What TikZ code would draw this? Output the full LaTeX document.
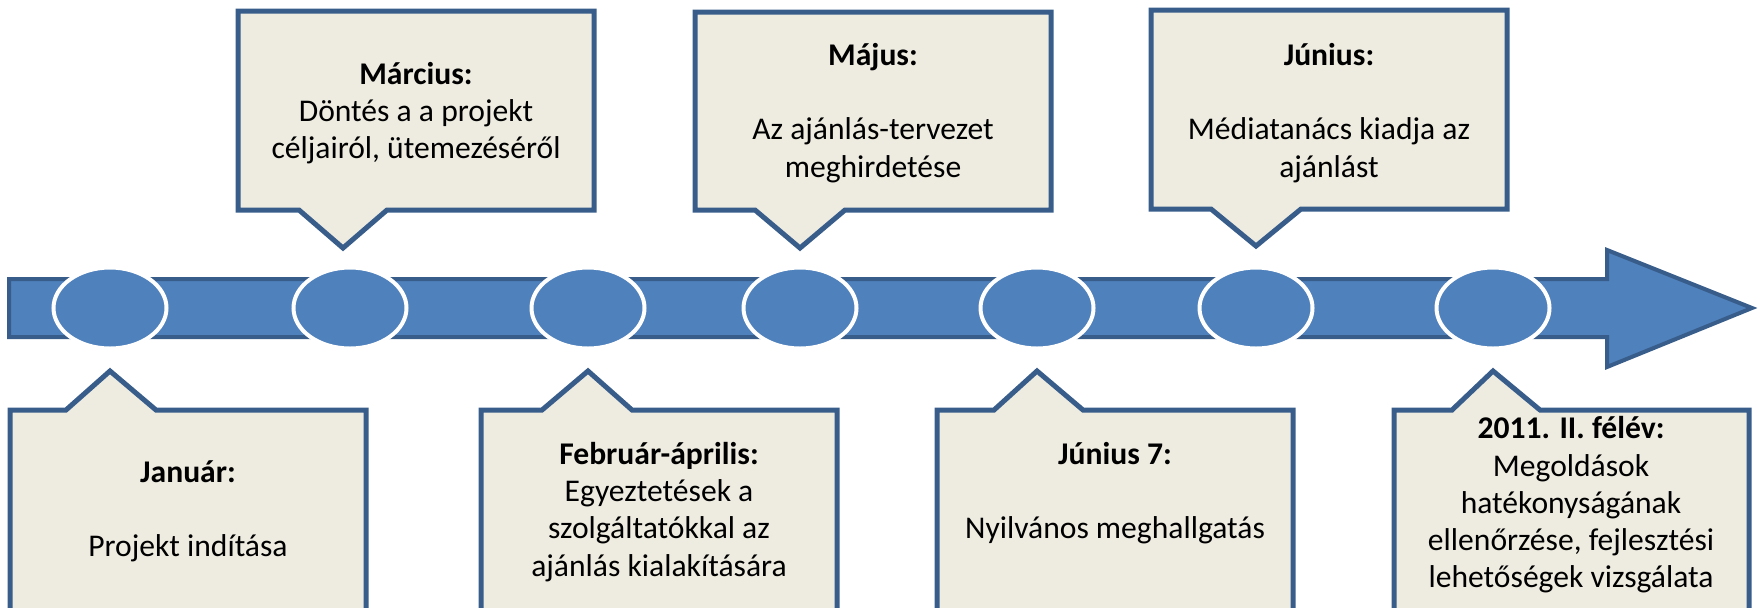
\documentclass[tikz,border=0pt]{standalone}
\usepackage{fontspec}
\setmainfont{Carlito}
\usetikzlibrary{calc,shapes.geometric}
\definecolor{barblue}{HTML}{4F81BD}
\definecolor{edgeblue}{HTML}{385D8A}
\definecolor{notefill}{HTML}{EEECE1}

\begin{document}
\begin{tikzpicture}[x=0.5pt,y=-0.5pt,
    notebox/.style={draw=edgeblue,fill=notefill,line width=2.5pt,line join=miter},
    dot/.style={ellipse,fill=barblue,draw=white,line width=2pt,
                minimum width=56.5pt,minimum height=40.5pt,inner sep=0pt},
    notetext/.style={align=center,inner sep=0pt,
                     font=\fontsize{15.8}{18.6}\selectfont}]
    \useasboundingbox (0,0) rectangle (1760,607);
    \clip (0,0) rectangle (1760,607);

    % time axis
    \draw[fill=barblue,draw=edgeblue,line width=2pt,line join=miter]
      (9,279) -- (1607,279) -- (1607,250) -- (1752,308)
      -- (1607,367) -- (1607,337) -- (9,337) -- cycle;

    \node (c1) at (110,308) [dot] {};
    \node (c2) at (350,308) [dot] {};
    \node (c3) at (588,308) [dot] {};
    \node (c4) at (800,308) [dot] {};
    \node (c5) at (1037,308) [dot] {};
    \node (c6) at (1256,308) [dot] {};
    \node (c7) at (1493,308) [dot] {};

    % callouts above
    \draw[notebox] (238,11) -- (594,11) -- (594,210) -- ($(c2 |- 0,210)+(37,0)$)
      -- ($(c2 |- 0,248)+(-7,0)$) -- ($(c2 |- 0,210)+(-51,0)$) -- (238,210) -- cycle;
    \draw[notebox] (695,12) -- (1051,12) -- (1051,210) -- ($(c4 |- 0,210)+(45,0)$)
      -- (c4 |- 0,248) -- ($(c4 |- 0,210)+(-45,0)$) -- (695,210) -- cycle;
    \draw[notebox] (1151,10) -- (1507,10) -- (1507,209) -- ($(c6 |- 0,209)+(45,0)$)
      -- (c6 |- 0,246) -- ($(c6 |- 0,209)+(-45,0)$) -- (1151,209) -- cycle;

    % callouts below
    \draw[notebox] (10,640) -- (10,410) -- ($(c1 |- 0,410)+(-44,0)$)
      -- (c1 |- 0,371) -- ($(c1 |- 0,410)+(46,0)$) -- (366,410) -- (366,640) -- cycle;
    \draw[notebox] (481,640) -- (481,410) -- ($(c3 |- 0,410)+(-46,0)$)
      -- (c3 |- 0,371) -- ($(c3 |- 0,410)+(44,0)$) -- (837,410) -- (837,640) -- cycle;
    \draw[notebox] (937,640) -- (937,410) -- ($(c5 |- 0,410)+(-43,0)$)
      -- (c5 |- 0,371) -- ($(c5 |- 0,410)+(46,0)$) -- (1293,410) -- (1293,640) -- cycle;
    \draw[notebox] (1394,640) -- (1394,410) -- ($(c7 |- 0,410)+(-41,0)$)
      -- (c7 |- 0,371) -- ($(c7 |- 0,410)+(47,0)$) -- (1749,410) -- (1749,640) -- cycle;

    \node (mar) at (416,113) [notetext] {\textbf{Március:}\\Döntés a a projekt\\céljairól, ütemezéséről};
    \node (maj) at (873,113) [notetext] {\textbf{Május:}\\[18.6pt]Az ajánlás-tervezet\\meghirdetése};
    \node (jun) at (1329,113) [notetext] {\textbf{Június:}\\[18.6pt]Médiatanács kiadja az\\ajánlást};
    \node (jan) at (188,511) [notetext] {\textbf{Január:}\\[18.6pt]Projekt indítása};
    \node (feb) at (659,512) [notetext] {\textbf{Február-április:}\\Egyeztetések a\\szolgáltatókkal az\\ajánlás kialakítására};
    \node (jun7) at (1115,493) [notetext] {\textbf{Június 7:}\\[18.6pt]Nyilvános meghallgatás};
    \node (fel) at (1571,505) [notetext] {\textbf{2011. II. félév:}\\Megoldások\\hatékonyságának\\ellenőrzése, fejlesztési\\lehetőségek vizsgálata};
\end{tikzpicture}
\end{document}
